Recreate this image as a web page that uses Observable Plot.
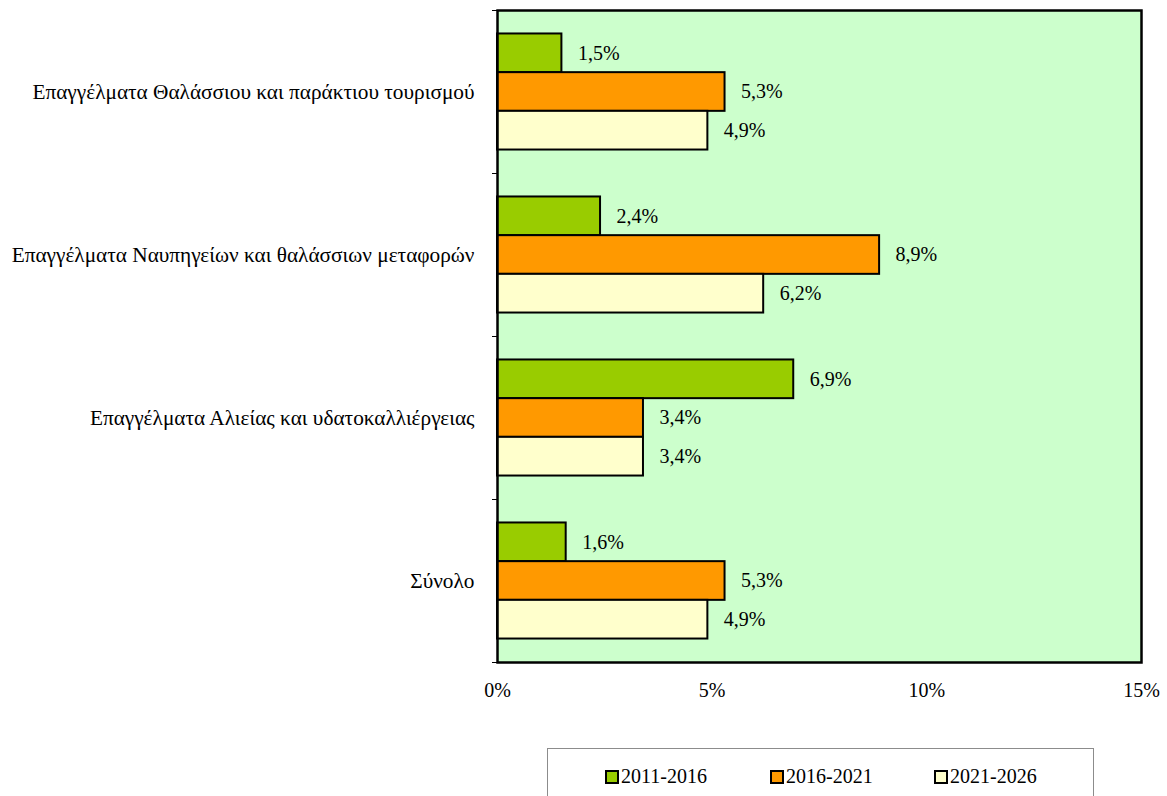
<!DOCTYPE html>
<html>
<head>
<meta charset="utf-8">
<script src="https://cdn.jsdelivr.net/npm/d3@7"></script>
<script src="https://cdn.jsdelivr.net/npm/@observablehq/plot@0.6"></script>
<style>
  html, body { margin: 0; padding: 0; background: #fff; overflow: hidden; }
  #chart svg { display: block; }
  .legend { position: relative; margin-top: 18px; margin-left: 547px; width: 547px; height: 70px; border: 1px solid #8c8c8c; box-sizing: border-box;
            font-family: "Liberation Serif", "Times New Roman", serif; font-size: 20px; color: #000; }
  .item { position: absolute; top: 16px; display: flex; align-items: center; }
  .sw { width: 10px; height: 10px; border: 2px solid #000; margin-right: 2px; }
</style>
</head>
<body>
<div id="chart"></div>
<div class="legend" id="legend"></div>
<script>
const categories = [
  "Επαγγέλματα Θαλάσσιου και παράκτιου τουρισμού",
  "Επαγγέλματα Ναυπηγείων και θαλάσσιων μεταφορών",
  "Επαγγέλματα Αλιείας και υδατοκαλλιέργειας",
  "Σύνολο"
];
const series = ["2011-2016", "2016-2021", "2021-2026"];
const values2011 = [1.5, 2.4, 6.9, 1.6];
const values2016 = [5.3, 8.9, 3.4, 5.3];
const values2021 = [4.9, 6.2, 3.4, 4.9];
const xTicks = [0, 5, 10, 15];
const colors = ["#99cc00", "#ff9900", "#ffffcc"];

const seriesValues = [values2011, values2016, values2021];
const pad = 0.144, bw = (1 - 2 * pad) / 3;
const rows = [];
categories.forEach((c, i) => {
  series.forEach((s, j) => {
    const y1 = i + pad + j * bw;
    rows.push({category: c, series: s, value: seriesValues[j][i], y1, y2: y1 + bw, ym: y1 + bw / 2});
  });
});

const fmt = v => v.toFixed(1).replace(".", ",") + "%";

const plot = Plot.plot({
  width: 1167,
  height: 730,
  marginLeft: 497,
  marginRight: 26,
  marginTop: 10,
  marginBottom: 68,
  style: {fontFamily: "'Liberation Serif', 'Times New Roman', serif", fontSize: "20px", color: "#000", background: "#fff"},
  x: {domain: [0, 15]},
  y: {domain: [0, categories.length], reverse: true},
  color: {domain: series, range: colors},
  marks: [
    Plot.frame({fill: "#ccffcc", stroke: "none"}),
    Plot.rect(rows, {x1: 0, x2: "value", y1: "y1", y2: "y2", fill: "series", stroke: "#000", strokeWidth: 2}),
    Plot.text(rows, {x: "value", y: "ym", text: d => fmt(d.value), textAnchor: "start", dx: 16, fill: "#000", fontSize: 20}),
    Plot.frame({stroke: "#000", strokeWidth: 2.5}),
    Plot.axisY({ticks: d3.range(categories.length + 1), tickSize: 5, tickFormat: () => "", label: null, strokeWidth: 1}),
    Plot.axisY({ticks: categories.map((c, i) => i + 0.5), tickSize: 0, tickPadding: 23, tickFormat: d => categories[Math.floor(d)], label: null, fontSize: 21.3, fill: "#000"}),
    Plot.axisX({ticks: xTicks, tickSize: 0, tickPadding: 20, tickFormat: d => d + "%", label: null, fontSize: 20, fill: "#000"})
  ]
});
document.getElementById("chart").appendChild(plot);

const legend = document.getElementById("legend");
const starts = [57, 222, 386];
series.forEach((s, j) => {
  const item = document.createElement("div");
  item.className = "item";
  item.style.left = starts[j] + "px";
  const sw = document.createElement("span");
  sw.className = "sw";
  sw.style.background = colors[j];
  const t = document.createElement("span");
  t.textContent = s;
  item.appendChild(sw);
  item.appendChild(t);
  legend.appendChild(item);
});
</script>
</body>
</html>
